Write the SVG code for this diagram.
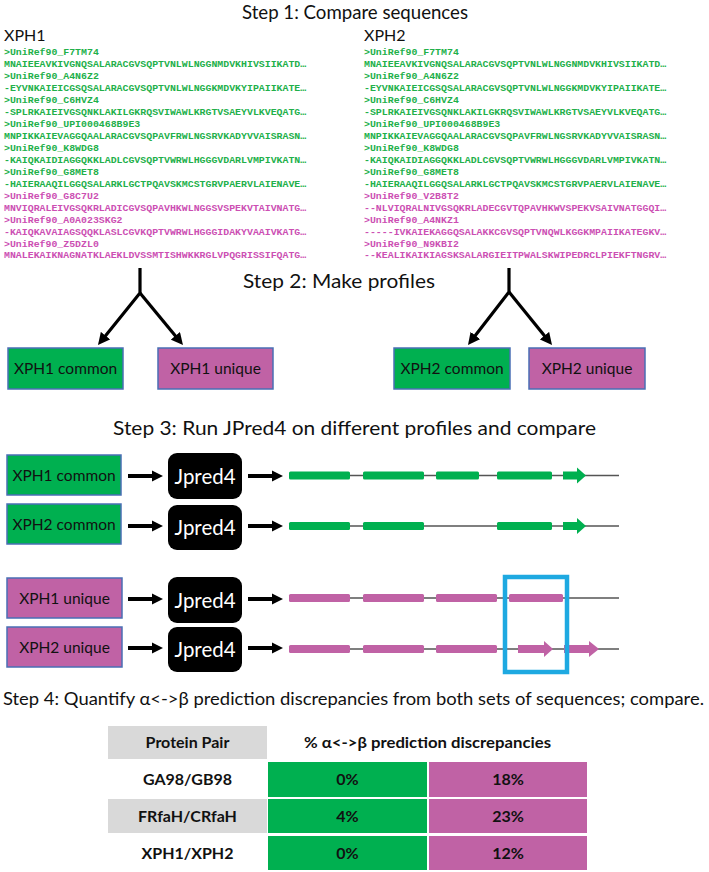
<svg xmlns="http://www.w3.org/2000/svg" width="709" height="872" viewBox="0 0 709 872">
<defs>
<style>
.title{font-family:Lato,"Liberation Sans",sans-serif;font-size:20px;fill:#111}
.col{font-family:Lato,"Liberation Sans",sans-serif;font-size:16px;fill:#111}
.seq{font-family:"Liberation Mono",monospace;font-weight:bold;font-size:9.9px}
.g{fill:#22b04a}
.p{fill:#cc4fb3}
.lbl{font-family:Lato,"Liberation Sans",sans-serif;font-size:15.5px;fill:#111;text-anchor:middle}
.jp{font-family:Lato,"Liberation Sans",sans-serif;font-size:22px;fill:#fff;text-anchor:middle}
.gbox{fill:#00b050;stroke:#4a6fb5;stroke-width:1.5}
.pbox{fill:#c062a5;stroke:#4a6fb5;stroke-width:1.5}
.jbox{fill:#000}
.track{stroke:#555;stroke-width:1.5}
.gbar{fill:#00b050}
.pbar{fill:#c062a5}
.fork{stroke:#000;stroke-width:3.2;fill:none}
.harr{stroke:#000;stroke-width:4;fill:none}
.tb{font-family:Lato,"Liberation Sans",sans-serif;font-size:16px;font-weight:bold;fill:#111;text-anchor:middle}
.gray{fill:#d9d9d9}
.gc{fill:#00b050}
.pc{fill:#c062a5}
</style>
<marker id="ah" viewBox="0 0 10 10" refX="4" refY="5" markerWidth="12" markerHeight="12" markerUnits="userSpaceOnUse" orient="auto">
<path d="M0,0 L10,5 L0,10 z" fill="#000"/>
</marker>
<marker id="ah2" viewBox="0 0 10 10" refX="3" refY="5" markerWidth="11" markerHeight="13" markerUnits="userSpaceOnUse" orient="auto">
<path d="M0,0 L10,5 L0,10 z" fill="#000"/>
</marker>
</defs>
<rect width="709" height="872" fill="#fff"/>

<text class="title" x="355" y="19" text-anchor="middle" textLength="226" lengthAdjust="spacingAndGlyphs">Step 1: Compare sequences</text>

<g id="seqs-xph1">
<text class="col" x="4" y="41">XPH1</text>
<text class="seq g" x="4" y="55">&gt;UniRef90_F7TM74</text>
<text class="seq g" x="4" y="67">MNAIEEAVKIVGNQSALARACGVSQPTVNLWLNGGNMDVKHIVSIIKATD…</text>
<text class="seq g" x="4" y="79">&gt;UniRef90_A4N6Z2</text>
<text class="seq g" x="4" y="91">-EYVNKAIEICGSQSALARACGVSQPTVNLWLNGGKMDVKYIPAIIKATE…</text>
<text class="seq g" x="4" y="103">&gt;UniRef90_C6HVZ4</text>
<text class="seq g" x="4" y="115">-SPLRKAIEIVGSQNKLAKILGKRQSVIWAWLKRGTVSAEYVLKVEQATG…</text>
<text class="seq g" x="4" y="127">&gt;UniRef90_UPI000468B9E3</text>
<text class="seq g" x="4" y="139">MNPIKKAIEVAGGQAALARACGVSQPAVFRWLNGSRVKADYVVAISRASN…</text>
<text class="seq g" x="4" y="151">&gt;UniRef90_K8WDG8</text>
<text class="seq g" x="4" y="163">-KAIQKAIDIAGGQKKLADLCGVSQPTVWRWLHGGGVDARLVMPIVKATN…</text>
<text class="seq g" x="4" y="175">&gt;UniRef90_G8MET8</text>
<text class="seq g" x="4" y="187">-HAIERAAQILGGQSALARKLGCTPQAVSKMCSTGRVPAERVLAIENAVE…</text>
<text class="seq p" x="4" y="199">&gt;UniRef90_G8C7U2</text>
<text class="seq p" x="4" y="211">MNVIQRALEIVGSQKRLADICGVSQPAVHKWLNGGSVSPEKVTAIVNATG…</text>
<text class="seq p" x="4" y="223">&gt;UniRef90_A0A023SKG2</text>
<text class="seq p" x="4" y="235">-KAIQKAVAIAGSQQKLASLCGVKQPTVWRWLHGGGIDAKYVAAIVKATG…</text>
<text class="seq p" x="4" y="247">&gt;UniRef90_Z5DZL0</text>
<text class="seq p" x="4" y="258">MNALEKAIKNAGNATKLAEKLDVSSMTISHWKKRGLVPQGRISSIFQATG…</text>
</g>

<g id="seqs-xph2">
<text class="col" x="364" y="41">XPH2</text>
<text class="seq g" x="364" y="55">&gt;UniRef90_F7TM74</text>
<text class="seq g" x="364" y="67">MNAIEEAVKIVGNQSALARACGVSQPTVNLWLNGGNMDVKHIVSIIKATD…</text>
<text class="seq g" x="364" y="79">&gt;UniRef90_A4N6Z2</text>
<text class="seq g" x="364" y="91">-EYVNKAIEICGSQSALARACGVSQPTVNLWLNGGKMDVKYIPAIIKATE…</text>
<text class="seq g" x="364" y="103">&gt;UniRef90_C6HVZ4</text>
<text class="seq g" x="364" y="115">-SPLRKAIEIVGSQNKLAKILGKRQSVIWAWLKRGTVSAEYVLKVEQATG…</text>
<text class="seq g" x="364" y="127">&gt;UniRef90_UPI000468B9E3</text>
<text class="seq g" x="364" y="139">MNPIKKAIEVAGGQAALARACGVSQPAVFRWLNGSRVKADYVVAISRASN…</text>
<text class="seq g" x="364" y="151">&gt;UniRef90_K8WDG8</text>
<text class="seq g" x="364" y="163">-KAIQKAIDIAGGQKKLADLCGVSQPTVWRWLHGGGVDARLVMPIVKATN…</text>
<text class="seq g" x="364" y="175">&gt;UniRef90_G8MET8</text>
<text class="seq g" x="364" y="187">-HAIERAAQILGGQSALARKLGCTPQAVSKMCSTGRVPAERVLAIENAVE…</text>
<text class="seq p" x="364" y="199">&gt;UniRef90_V2B8T2</text>
<text class="seq p" x="364" y="211">--NLVIQRALNIVGSQKRLADECGVTQPAVHKWVSPEKVSAIVNATGGQI…</text>
<text class="seq p" x="364" y="223">&gt;UniRef90_A4NKZ1</text>
<text class="seq p" x="364" y="235">-----IVKAIEKAGGQSALAKKCGVSQPTVNQWLKGGKMPAIIKATEGKV…</text>
<text class="seq p" x="364" y="247">&gt;UniRef90_N9KBI2</text>
<text class="seq p" x="364" y="258">--KEALIKAIKIAGSKSALARGIEITPWALSKWIPEDRCLPIEKFTNGRV…</text>
</g>

<text class="title" x="243" y="288" textLength="192" lengthAdjust="spacingAndGlyphs">Step 2: Make profiles</text>

<g id="connectors">
<path class="fork" d="M140,268 L140,293 L102.5,339.4" marker-end="url(#ah)"/>
<path class="fork" d="M140,293 L178.4,339.5" marker-end="url(#ah)"/>
<path class="fork" d="M509,268 L509,292 L472.4,339.3" marker-end="url(#ah)"/>
<path class="fork" d="M509,292 L547.5,339.4" marker-end="url(#ah)"/>
<line class="harr" x1="128" y1="476" x2="155.3" y2="476" marker-end="url(#ah2)"/>
<line class="harr" x1="248" y1="476" x2="275.3" y2="476" marker-end="url(#ah2)"/>
<line class="harr" x1="128" y1="526" x2="155.3" y2="526" marker-end="url(#ah2)"/>
<line class="harr" x1="248" y1="526" x2="275.3" y2="526" marker-end="url(#ah2)"/>
<line class="harr" x1="128" y1="599" x2="155.3" y2="599" marker-end="url(#ah2)"/>
<line class="harr" x1="248" y1="599" x2="275.3" y2="599" marker-end="url(#ah2)"/>
<line class="harr" x1="128" y1="648" x2="155.3" y2="648" marker-end="url(#ah2)"/>
<line class="harr" x1="248" y1="648" x2="275.3" y2="648" marker-end="url(#ah2)"/>
</g>

<g id="xph1-common-profile">
<rect class="gbox" x="8" y="348" width="115" height="41"/>
<text class="lbl" x="65.5" y="374">XPH1 common</text>
</g>
<g id="xph1-unique-profile">
<rect class="pbox" x="158" y="348" width="115" height="41"/>
<text class="lbl" x="215.5" y="374">XPH1 unique</text>
</g>
<g id="xph2-common-profile">
<rect class="gbox" x="394" y="348" width="116" height="41"/>
<text class="lbl" x="452" y="374">XPH2 common</text>
</g>
<g id="xph2-unique-profile">
<rect class="pbox" x="529" y="348" width="116" height="41"/>
<text class="lbl" x="587" y="374">XPH2 unique</text>
</g>

<text class="title" x="113" y="435" textLength="483" lengthAdjust="spacingAndGlyphs">Step 3: Run JPred4 on different profiles and compare</text>

<g id="row-xph1-common">
<rect class="gbox" x="7" y="455" width="114" height="40"/>
<text class="lbl" x="64" y="481">XPH1 common</text>
<rect class="jbox" x="168" y="453" width="74" height="46" rx="9"/>
<text class="jp" x="205" y="483.5" textLength="61" lengthAdjust="spacingAndGlyphs">Jpred4</text>
<line class="track" x1="289" y1="475.5" x2="619" y2="475.5"/>
<rect class="gbar" x="289" y="471.5" width="61" height="8" rx="1.5"/>
<rect class="gbar" x="363" y="471.5" width="61" height="8" rx="1.5"/>
<rect class="gbar" x="436" y="471.5" width="43" height="8" rx="1.5"/>
<rect class="gbar" x="497" y="471.5" width="55" height="8" rx="1.5"/>
<path class="gbar" d="M563,471.5 H577 V467.5 L586,475.5 L577,483.5 V479.5 H563 Z"/>
</g>

<g id="row-xph2-common">
<rect class="gbox" x="7" y="504" width="114" height="40"/>
<text class="lbl" x="64" y="530">XPH2 common</text>
<rect class="jbox" x="168" y="505" width="74" height="45" rx="9"/>
<text class="jp" x="205" y="535" textLength="61" lengthAdjust="spacingAndGlyphs">Jpred4</text>
<line class="track" x1="289" y1="526" x2="619" y2="526"/>
<rect class="gbar" x="289" y="522" width="61" height="8" rx="1.5"/>
<rect class="gbar" x="363" y="522" width="61" height="8" rx="1.5"/>
<rect class="gbar" x="497" y="522" width="55" height="8" rx="1.5"/>
<path class="gbar" d="M563,522 H577 V518 L586,526 L577,534 V530 H563 Z"/>
</g>

<g id="row-xph1-unique">
<rect class="pbox" x="7" y="578" width="115" height="40"/>
<text class="lbl" x="64.5" y="604">XPH1 unique</text>
<rect class="jbox" x="168" y="577" width="74" height="46" rx="9"/>
<text class="jp" x="205" y="607.5" textLength="61" lengthAdjust="spacingAndGlyphs">Jpred4</text>
<line class="track" x1="289" y1="598" x2="619" y2="598"/>
<rect class="pbar" x="289" y="594" width="61" height="8" rx="1.5"/>
<rect class="pbar" x="363" y="594" width="61" height="8" rx="1.5"/>
<rect class="pbar" x="436" y="594" width="61" height="8" rx="1.5"/>
<rect class="pbar" x="509" y="594" width="54" height="8" rx="1.5"/>
</g>

<g id="row-xph2-unique">
<rect class="pbox" x="7" y="627" width="115" height="40"/>
<text class="lbl" x="64.5" y="653">XPH2 unique</text>
<rect class="jbox" x="168" y="627" width="74" height="45" rx="9"/>
<text class="jp" x="205" y="657" textLength="61" lengthAdjust="spacingAndGlyphs">Jpred4</text>
<line class="track" x1="289" y1="649" x2="619" y2="649"/>
<rect class="pbar" x="289" y="645" width="61" height="8" rx="1.5"/>
<rect class="pbar" x="363" y="645" width="61" height="8" rx="1.5"/>
<rect class="pbar" x="436" y="645" width="61" height="8" rx="1.5"/>
<path class="pbar" d="M518,645 H544 V641 L553,649 L544,657 V653 H518 Z"/>
<path class="pbar" d="M564,645 H589 V641 L599,649 L589,657 V653 H564 Z"/>
</g>

<g id="highlight">
<rect x="505" y="577" width="62" height="95" fill="none" stroke="#1ea9e1" stroke-width="4.5"/>
</g>

<text class="title" x="3" y="705" style="font-size:17px" textLength="701" lengthAdjust="spacingAndGlyphs">Step 4: Quantify α&lt;-&gt;β prediction discrepancies from both sets of sequences; compare.</text>

<g id="table">
<rect class="gray" x="108" y="726" width="159" height="33"/>
<text class="tb" x="187.5" y="748">Protein Pair</text>
<text class="tb" x="427.5" y="748" textLength="247" lengthAdjust="spacingAndGlyphs">% α&lt;-&gt;β prediction discrepancies</text>

<text class="tb" x="187.5" y="785">GA98/GB98</text>
<rect class="gc" x="268" y="762" width="159" height="35"/>
<rect class="pc" x="429" y="762" width="158" height="35"/>
<text class="tb" x="347.5" y="785">0%</text>
<text class="tb" x="508" y="785">18%</text>

<rect class="gray" x="108" y="799" width="159" height="34"/>
<text class="tb" x="187.5" y="822">FRfaH/CRfaH</text>
<rect class="gc" x="268" y="799" width="159" height="34"/>
<rect class="pc" x="429" y="799" width="158" height="34"/>
<text class="tb" x="347.5" y="822">4%</text>
<text class="tb" x="508" y="822">23%</text>

<text class="tb" x="187.5" y="859">XPH1/XPH2</text>
<rect class="gc" x="268" y="836" width="159" height="34"/>
<rect class="pc" x="429" y="836" width="158" height="34"/>
<text class="tb" x="347.5" y="859">0%</text>
<text class="tb" x="508" y="859">12%</text>
</g>
</svg>
